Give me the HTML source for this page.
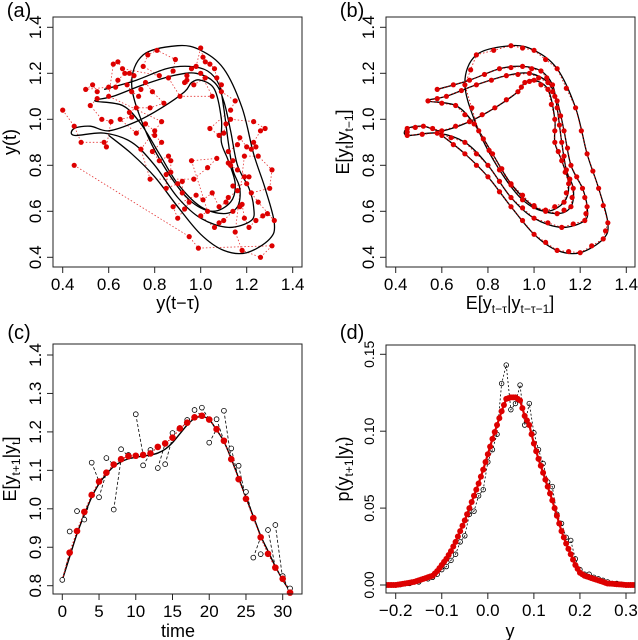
<!DOCTYPE html>
<html><head><meta charset="utf-8"><style>
html,body{margin:0;padding:0;background:#fff}
svg{display:block}
text{font-family:"Liberation Sans",sans-serif;fill:#000}
</style></head><body>
<svg id="fig" width="638" height="640" viewBox="0 0 638 640" xmlns="http://www.w3.org/2000/svg"></svg>
<script>
// ---------- data ----------
const curveX=[0.58,0.72,0.85,0.95,1.03,1.08,1.10,1.12,1.14,1.17,1.16,1.10,1.00,0.90,0.82,0.74,0.66,0.54,0.62,0.75,0.88,0.98,1.06,1.10,1.13,1.16,1.21,1.23,1.22,1.12,1.00,0.90,0.80,0.70,0.58,0.45,0.45,0.52,0.60,0.72,0.83,0.93,0.96,1.00,1.06,1.09,1.09,1.12,1.15,1.13,1.05,0.95,0.85,0.76,0.70,0.75,0.90,1.00,1.10,1.18,1.23,1.28,1.32,1.30,1.20,1.10,1.00,0.90,0.80,0.70,0.60];
const curveY=[1.13,1.17,1.22,1.23,1.21,1.15,1.05,0.90,0.78,0.70,0.62,0.59,0.62,0.72,0.85,0.98,1.06,1.08,1.10,1.15,1.19,1.20,1.16,1.08,0.95,0.80,0.70,0.62,0.56,0.53,0.57,0.66,0.80,0.90,0.94,0.93,0.96,0.97,0.95,0.99,1.05,1.12,1.16,1.17,1.13,1.00,0.90,0.82,0.72,0.64,0.60,0.65,0.78,0.95,1.15,1.28,1.32,1.30,1.22,1.05,0.85,0.70,0.55,0.48,0.42,0.43,0.50,0.62,0.75,0.85,0.93];
const aX=[0.40,0.45,0.48,0.45,0.50,0.52,0.53,0.55,0.57,0.58,0.59,0.60,0.61,0.62,0.63,0.64,0.65,0.66,0.68,0.69,0.70,0.71,0.72,0.73,0.74,0.75,0.76,0.77,0.78,0.79,0.80,0.81,0.82,0.83,0.84,0.85,0.86,0.87,0.88,0.89,0.90,0.91,0.92,0.93,0.94,0.95,0.96,0.97,0.98,0.99,1.00,1.01,1.02,1.03,1.04,1.05,1.06,1.07,1.08,1.09,1.10,1.11,1.12,1.13,1.14,1.15,1.15,1.16,1.17,1.18,1.19,1.20,1.21,1.22,1.23,1.24,1.25,1.26,1.26,1.27,1.28,1.30,1.31,1.31,1.32,1.29,1.22,1.13,1.05,0.97,1.14,1.12,1.19,1.08,1.01,0.93,
 0.55,0.64,0.70,0.78,0.83,0.87,0.92,0.98,1.03,1.08,1.12,1.16,1.20,1.24,0.60,0.67,0.74,0.80,0.86,0.90,0.95,1.00,1.06,1.10,1.14,1.18,1.21,1.25,0.69,0.76,0.82,0.88,0.94,1.00,1.04,1.09,1.13,1.17,0.72,0.79,0.85,0.96,1.02,1.07,1.11,1.16,1.19,1.23];
const aY=[1.04,0.97,0.90,0.80,1.13,1.06,1.15,1.12,1.00,0.90,0.88,1.10,0.99,1.24,1.14,1.25,1.00,1.22,1.15,1.20,1.01,1.19,1.05,1.10,0.87,1.23,0.98,1.28,0.74,1.12,0.93,1.30,0.82,0.99,1.07,0.70,1.18,0.77,0.62,1.26,0.57,1.10,0.68,0.61,1.19,0.49,0.82,0.74,1.23,0.44,1.31,0.65,1.18,0.79,0.96,0.68,1.22,0.83,0.55,1.15,0.94,0.64,0.86,0.80,0.71,1.08,0.51,0.89,0.62,0.43,0.75,0.88,0.53,0.68,0.99,0.56,0.64,0.95,0.40,0.58,0.96,0.70,0.78,0.45,0.56,0.59,0.87,1.04,1.10,1.15,0.82,0.81,0.84,0.93,1.27,1.16,
 1.09,1.17,1.12,1.05,0.90,0.82,0.73,0.67,0.60,0.62,0.66,0.69,0.72,0.88,1.14,1.20,1.13,0.95,0.84,0.72,0.64,0.58,0.53,0.56,0.60,0.63,0.75,0.84,1.03,1.16,1.19,1.21,1.17,1.20,1.24,1.12,1.00,0.92,0.94,0.86,0.76,1.22,1.25,1.18,0.98,0.78,0.57,0.90];
const cTime=[0,1,2,3,4,5,6,7,8,9,10,11,12,13,14,15,16,17,18,19,20,21,22,23,24,25,26,27,28,29,30,31];
const cPred=[0.815,0.886,0.942,0.992,1.036,1.071,1.094,1.115,1.129,1.137,1.138,1.140,1.144,1.161,1.170,1.185,1.209,1.224,1.238,1.242,1.232,1.207,1.177,1.129,1.077,1.026,0.976,0.926,0.883,0.847,0.818,0.782];
const cObs=[0.815,0.941,0.994,0.972,1.120,1.030,1.132,0.998,1.155,1.140,1.246,1.113,1.153,1.106,1.116,1.197,1.210,1.231,1.257,1.263,1.172,1.233,1.255,1.157,1.112,1.044,0.873,0.882,0.945,0.958,0.825,0.793];
const cSmooth=[0.815,0.875,0.935,0.985,1.030,1.065,1.090,1.110,1.122,1.130,1.134,1.137,1.140,1.145,1.155,1.172,1.195,1.218,1.235,1.240,1.232,1.205,1.175,1.130,1.080,1.030,0.980,0.930,0.890,0.850,0.815,0.785];
const dY=[-0.22,-0.21,-0.20,-0.19,-0.18,-0.17,-0.16,-0.15,-0.14,-0.13,-0.12,-0.11,-0.10,-0.09,-0.08,-0.07,-0.06,-0.05,-0.04,-0.03,-0.02,-0.01,0.00,0.01,0.02,0.03,0.04,0.05,0.06,0.07,0.08,0.09,0.10,0.11,0.12,0.13,0.14,0.15,0.16,0.17,0.18,0.19,0.20,0.21,0.22,0.23,0.24,0.25,0.26,0.27,0.28,0.29,0.30,0.31,0.32];
const dFit=[0,0,0,0.0005,0.001,0.0015,0.002,0.003,0.004,0.005,0.006,0.009,0.013,0.017,0.022,0.028,0.035,0.042,0.050,0.058,0.066,0.075,0.085,0.095,0.104,0.113,0.121,0.122,0.122,0.120,0.110,0.104,0.092,0.082,0.073,0.064,0.055,0.045,0.035,0.027,0.020,0.013,0.008,0.006,0.005,0.004,0.003,0.002,0.001,0.0008,0.0005,0.0003,0,0,0];
const dObs=[0,0,0,0.0003,0.0008,0.001,0.002,0.002,0.004,0.004,0.005,0.007,0.010,0.012,0.016,0.020,0.028,0.032,0.046,0.048,0.058,0.062,0.080,0.088,0.098,0.131,0.143,0.114,0.118,0.130,0.104,0.118,0.099,0.088,0.079,0.067,0.064,0.046,0.040,0.031,0.029,0.017,0.010,0.007,0.007,0.005,0.004,0.003,0.002,0.001,0.001,0.0005,0,0,0];
const xyTicks=[0.4,0.6,0.8,1.0,1.2,1.4];
const cXTicks=[0,5,10,15,20,25,30];
const cYTicks=[0.8,0.9,1.0,1.1,1.2,1.3,1.4];
const dXTicks=[-0.2,-0.1,0.0,0.1,0.2,0.3];
const dYTicks=[0,0.05,0.10,0.15];

// ---------- helpers ----------
const NS="http://www.w3.org/2000/svg";
const svg=document.getElementById('fig');
function mk(tag,attrs,parent){const e=document.createElementNS(NS,tag);for(const k in attrs)e.setAttribute(k,attrs[k]);(parent||svg).appendChild(e);return e;}
function lin(d0,d1,p0,p1){return v=>p0+(v-d0)*(p1-p0)/(d1-d0);}
function smoothPath(pts){let d=`M${pts[0][0]},${pts[0][1]}`;for(let i=0;i<pts.length-1;i++){const p0=pts[i-1]||pts[i],p1=pts[i],p2=pts[i+1],p3=pts[i+2]||p2;const c1=[p1[0]+(p2[0]-p0[0])/6,p1[1]+(p2[1]-p0[1])/6],c2=[p2[0]-(p3[0]-p1[0])/6,p2[1]-(p3[1]-p1[1])/6];d+=` C${c1[0]},${c1[1]} ${c2[0]},${c2[1]} ${p2[0]},${p2[1]}`;}return d;}
const RED="#dd0000";

function axes(g,box,sx,sy,xt,yt,xfmt,yfmt){
  const r=mk('rect',{x:box.l,y:box.t,width:box.r-box.l,height:box.b-box.t,fill:'none',stroke:'#222','stroke-width':1},g);
  
  const xa=mk('g',{},g);
  mk('line',{x1:sx(xt[0]),x2:sx(xt[xt.length-1]),y1:box.b,y2:box.b,stroke:'#222'},xa);
  xt.forEach(v=>{const x=sx(v);mk('line',{x1:x,x2:x,y1:box.b,y2:box.b+6,stroke:'#222'},xa);
    const t=mk('text',{x:x,y:box.b+23,'font-size':17,'text-anchor':'middle'},xa);t.textContent=xfmt(v);
    });
  const ya=mk('g',{},g);
  mk('line',{y1:sy(yt[0]),y2:sy(yt[yt.length-1]),x1:box.l,x2:box.l,stroke:'#222'},ya);
  yt.forEach(v=>{const y=sy(v);mk('line',{y1:y,y2:y,x1:box.l,x2:box.l-6,stroke:'#222'},ya);
    const t=mk('text',{x:0,y:0,'font-size':yfmt.fs||17,'text-anchor':'middle',transform:`translate(${box.l-12},${y}) rotate(-90)`},ya);t.textContent=yfmt(v);
    });
}
function label(g,html,x,y,rot,name,fs){const t=mk('text',{x:0,y:0,'font-size':fs||18,'text-anchor':'middle',transform:`translate(${x},${y})`+(rot?' rotate(-90)':'')},g);t.innerHTML=html;return t;}
const f1=v=>v.toFixed(1);
function chainOrder(pts){const n=pts.length,used=new Array(n).fill(false),ord=[0];used[0]=true;
  for(let k=1;k<n;k++){const p=pts[ord[ord.length-1]];let bi=-1,bd=1e9;for(let j=0;j<n;j++){if(used[j])continue;const d=(pts[j][0]-p[0])**2+(pts[j][1]-p[1])**2;if(d<bd){bd=d;bi=j;}}used[bi]=true;ord.push(bi);}return ord.map(i=>pts[i]);}

// ---------- panel a ----------
(function(){
  const g=mk('g',{});
  const box={l:53,r:302,t:17,b:267};
  const sx=lin(0.4,1.4,62.7,292.7),sy=lin(0.4,1.4,257.3,27.3);
  const cp=mk('clipPath',{id:'ca'},g);mk('rect',{x:box.l,y:box.t,width:box.r-box.l,height:box.b-box.t},cp);
  const pg=mk('g',{'clip-path':'url(#ca)'},g);
  const pts=aX.map((x,i)=>[sx(x),sy(aY[i])]);
  const ordered=chainOrder(pts);
  const ln=mk('polyline',{points:ordered.map(p=>p.join(',')).join(' '),fill:'none',stroke:RED,'stroke-width':0.8,'stroke-dasharray':'1.5,2',opacity:0.8},pg);
  
  const cv=mk('path',{d:smoothPath(curveX.map((x,i)=>[sx(x),sy(curveY[i])])),fill:'none',stroke:'#000','stroke-width':1.3},pg);
  
  pts.forEach(p=>{const c=mk('circle',{cx:p[0],cy:p[1],r:2.6,fill:RED},pg);});
  axes(g,box,sx,sy,xyTicks,xyTicks,f1,f1);
  label(g,'y(t)',16,142,true,'y-axis-title');
  label(g,'y(t−τ)',178,309,false,'x-axis-title');
  label(g,'(a)',19,17,false,'panel-label',20);
})();

// ---------- panel b ----------
(function(){
  const g=mk('g',{});
  const box={l:386,r:635,t:17,b:267};
  const sx=lin(0.4,1.4,395.7,626.3),sy=lin(0.4,1.4,257.3,27.3);
  const pts=curveX.map((x,i)=>[sx(x),sy(curveY[i])]);
  const cv=mk('path',{d:smoothPath(pts),fill:'none',stroke:'#000','stroke-width':1.3},g);
  
  const dots=[];
  curveX.forEach((x,i)=>{dots.push([x,curveY[i]]);if(i<curveX.length-1)dots.push([(x+curveX[i+1])/2,(curveY[i]+curveY[i+1])/2]);});
  const rl=mk('polyline',{points:dots.map(d=>sx(d[0])+','+sy(d[1])).join(' '),fill:'none',stroke:RED,'stroke-width':0.8,'stroke-dasharray':'1.5,2'},g);
  
  dots.forEach(d=>{const c=mk('circle',{cx:sx(d[0]),cy:sy(d[1]),r:2.6,fill:RED},g);});
  axes(g,box,sx,sy,xyTicks,xyTicks,f1,f1);
  label(g,'E[y<tspan font-size="12" dy="4">t</tspan><tspan dy="-4">|y</tspan><tspan font-size="12" dy="4">t−1</tspan><tspan dy="-4">]</tspan>',349,142,true,'y-axis-title');
  label(g,'E[y<tspan font-size="12" dy="4">t−τ</tspan><tspan dy="-4">|y</tspan><tspan font-size="12" dy="4">t−τ−1</tspan><tspan dy="-4">]</tspan>',510,309,false,'x-axis-title');
  label(g,'(b)',352,17,false,'panel-label',20);
})();

// ---------- panel c ----------
(function(){
  const g=mk('g',{});
  const box={l:53,r:302,t:344,b:594};
  const sx=lin(0,30,62.3,282.7),sy=lin(0.8,1.4,585.7,355);
  for(let i=0;i<cTime.length-1;i++){const l=mk('line',{x1:sx(cTime[i]),y1:sy(cObs[i]),x2:sx(cTime[i+1]),y2:sy(cPred[i+1]),stroke:'#000','stroke-width':0.8,'stroke-dasharray':'3,2'},g);}
  const sm=mk('path',{d:smoothPath(cTime.map((t,i)=>[sx(t),sy(cSmooth[i])])),fill:'none',stroke:'#000','stroke-width':1.4},g);
  
  const rl=mk('polyline',{points:cTime.map((t,i)=>sx(t)+','+sy(cPred[i])).join(' '),fill:'none',stroke:RED,'stroke-width':1,'stroke-dasharray':'1.5,2'},g);
  
  cTime.forEach((t,i)=>{const c=mk('circle',{cx:sx(t),cy:sy(cObs[i]),r:2.4,fill:'#fff',stroke:'#000','stroke-width':0.8},g);});
  cTime.forEach((t,i)=>{if(i===0)return;const c=mk('circle',{cx:sx(t),cy:sy(cPred[i]),r:3.3,fill:RED},g);});
  axes(g,box,sx,sy,cXTicks,cYTicks,v=>String(v),f1);
  label(g,'E[y<tspan font-size="12" dy="4">t+1</tspan><tspan dy="-4">|y</tspan><tspan font-size="12" dy="4">t</tspan><tspan dy="-4">]</tspan>',16,469,true,'y-axis-title');
  label(g,'time',178,637,false,'x-axis-title');
  label(g,'(c)',19,339,false,'panel-label',20);
})();

// ---------- panel d ----------
(function(){
  const g=mk('g',{});
  const box={l:386,r:635,t:345,b:593};
  const sx=lin(-0.2,0.3,395.7,626),sy=lin(0,0.15,585,354.3);
  const cp=mk('clipPath',{id:'cd'},g);mk('rect',{x:box.l,y:box.t,width:box.r-box.l,height:box.b-box.t},cp);
  const pg=mk('g',{'clip-path':'url(#cd)'},g);
  const bl=mk('polyline',{points:dY.map((y,i)=>sx(y)+','+sy(dObs[i])).join(' '),fill:'none',stroke:'#000','stroke-width':0.8,'stroke-dasharray':'2,2'},pg);
  
  dY.forEach((y,i)=>{const c=mk('circle',{cx:sx(y),cy:sy(dObs[i]),r:2.3,fill:'none',stroke:'#000','stroke-width':0.8},pg);});
  const rl=mk('polyline',{points:dY.map((y,i)=>sx(y)+','+sy(dFit[i])).join(' '),fill:'none',stroke:RED,'stroke-width':2.2},pg);
  
  dY.forEach((y,i)=>{const c=mk('circle',{cx:sx(y),cy:sy(dFit[i]),r:3,fill:RED},pg);
    if(i<dY.length-1){const m=mk('circle',{cx:sx((y+dY[i+1])/2),cy:sy((dFit[i]+dFit[i+1])/2),r:3,fill:RED},pg);}});
  const fmt=v=>v.toFixed(2);fmt.fs=14;
  axes(g,box,sx,sy,dXTicks,dYTicks,v=>(v<0?'−':'')+Math.abs(v).toFixed(1),fmt);
  label(g,'p(y<tspan font-size="12" dy="4">t+1</tspan><tspan dy="-4">|y</tspan><tspan font-size="12" dy="4">t</tspan><tspan dy="-4">)</tspan>',349,469,true,'y-axis-title');
  label(g,'y',510,637,false,'x-axis-title');
  label(g,'(d)',352,339,false,'panel-label',20);
})();
</script>
</body></html>
